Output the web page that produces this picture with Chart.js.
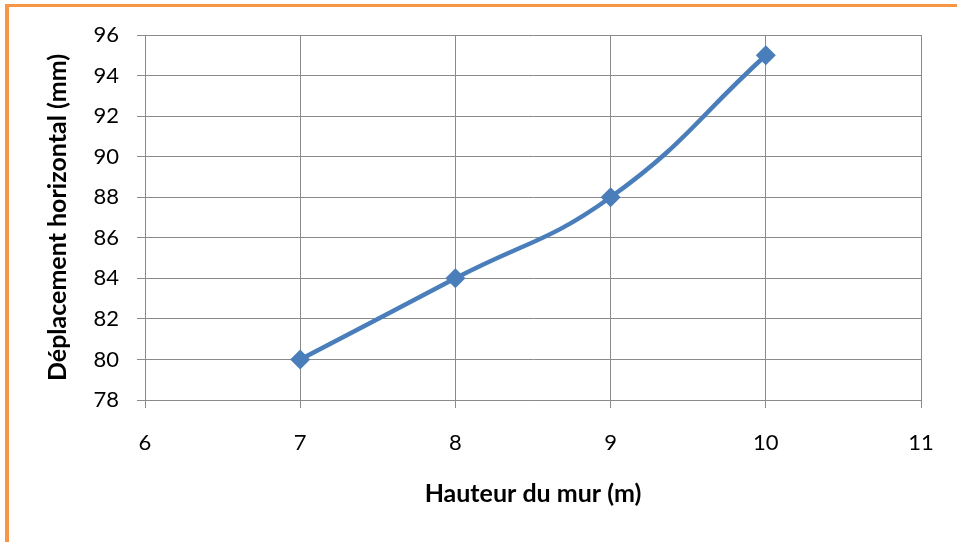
<!DOCTYPE html>
<html>
<head>
<meta charset="utf-8">
<script src="https://cdn.jsdelivr.net/npm/chart.js@4.4.1/dist/chart.umd.min.js"></script>
<style>
  html, body { margin: 0; padding: 0; background: #ffffff; }
  #frame {
    position: absolute; left: 5px; top: 4px; width: 960px; height: 535px;
    border-left: 4px solid #f79646; border-top: 3px solid #f79646;
    border-bottom: 2px solid #fbe3cf;
  }
  #wrap { position: absolute; left: 0; top: 0; width: 957px; height: 542px; }
</style>
</head>
<body>
<div id="frame"></div>
<div id="wrap"><canvas id="chart" width="957" height="542"></canvas></div>
<script>
// Wall height (m) versus horizontal displacement (mm)
const hauteurs = [7, 8, 9, 10];
const deplacements = [80, 84, 88, 95];
const xTicks = [6, 7, 8, 9, 10, 11];
const yTicks = [78, 80, 82, 84, 86, 88, 90, 92, 94, 96];

const FONT = "Lato, 'Open Sans', sans-serif";
const gridColor = '#8a8a8a';

new Chart(document.getElementById('chart'), {
  type: 'scatter',
  data: {
    datasets: [{
      data: hauteurs.map((x, i) => ({ x: x, y: deplacements[i] })),
      showLine: true,
      borderColor: '#4a7ebb',
      backgroundColor: '#4a7ebb',
      borderWidth: 4.5,
      tension: 0.45,
      pointStyle: 'rectRot',
      pointRadius: 10,
      pointHoverRadius: 10,
      pointBorderWidth: 0
    }]
  },
  options: {
    responsive: false,
    animation: false,
    devicePixelRatio: 1,
    layout: { padding: { top: 35, right: 36, left: 0, bottom: 0 } },
    plugins: { legend: { display: false }, tooltip: { enabled: false } },
    scales: {
      x: {
        type: 'linear',
        min: xTicks[0], max: xTicks[xTicks.length - 1],
        afterBuildTicks: s => { s.ticks = xTicks.map(v => ({ value: v })); },
        afterFit: s => { s.height = 142; },
        grid: { color: gridColor, lineWidth: 1, tickLength: 8, drawTicks: true },
        border: { color: gridColor, width: 1 },
        ticks: { color: '#000', font: { family: FONT, size: 22 }, padding: 22 },
        title: { display: true, text: 'Hauteur du mur (m)', color: '#000',
                 font: { family: FONT, size: 25, weight: 'bold' }, padding: { top: 0, bottom: 33 } }
      },
      y: {
        type: 'linear',
        min: yTicks[0], max: yTicks[yTicks.length - 1],
        afterBuildTicks: s => { s.ticks = yTicks.map(v => ({ value: v })); },
        afterFit: s => { s.width = 145; },
        grid: { color: gridColor, lineWidth: 1, tickLength: 8, drawTicks: true },
        border: { color: gridColor, width: 1 },
        ticks: { color: '#000', font: { family: FONT, size: 22 }, padding: 18 },
        title: { display: true, text: 'Déplacement horizontal (mm)', color: '#000',
                 font: { family: FONT, size: 25, weight: 'bold' }, padding: { top: 43, bottom: 0 } }
      }
    }
  }
});
</script>
</body>
</html>
